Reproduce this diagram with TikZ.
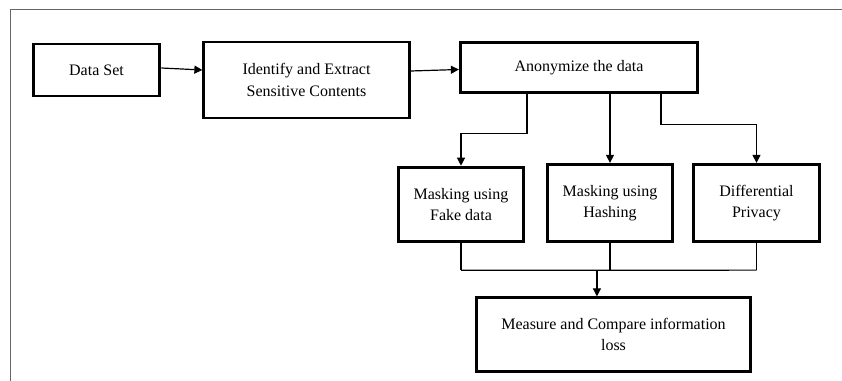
\documentclass[tikz,border=0pt]{standalone}
\usepackage{fontspec}
\setmainfont{Liberation Serif}
\usetikzlibrary{calc, positioning, arrows.meta}

\begin{document}
\begin{tikzpicture}[x=0.75pt, y=-0.75pt,
            box/.style={
                draw, line width=2.2pt,
                align=center,
                inner sep=0pt,
                font=\fontsize{12}{16}\selectfont
            },
            conn/.style={line width=0.9pt},
            arr/.style={conn, -{Triangle[width=6pt,length=6pt]}}]
            \useasboundingbox (0,0) rectangle (842,381);
            % frame
            \draw[gray!80!black, line width=0.7pt] (842,9) -- (10,9) -- (10,381);

            \node[box, minimum width=95pt, minimum height=39pt] (dataset) at (96.5,70) {Data Set};
            \node[box, minimum width=154pt, minimum height=57pt] (identify) at (306.5,80) {Identify and Extract\\Sensitive Contents};
            \node[box, minimum width=178pt, minimum height=38pt] (anon) at (579,67.5) {Anonymize the data};
            \node[box, minimum width=94pt, minimum height=56pt] (fake) at (461,204.5) {Masking using\\Fake data};
            \node[box, minimum width=94pt, minimum height=58pt] (hash) at (610,203) {Masking using\\Hashing};
            \node[box, minimum width=95pt, minimum height=58pt] (diff) at (756.5,203) {Differential\\Privacy};
            \node[box, minimum width=205pt, minimum height=55pt] (measure) at (613.5,334.5) {Measure and Compare information\\loss};

            % top row
            \draw[arr] ($(dataset.east)+(0,-2)$) -- (dataset.east -| identify.west);
            \draw[arr] ($(identify.east)+(0,-9)$) -- ($(anon.west)+(0,2)$);

            % split
            \draw[arr] ($(anon.south)+(-52,0)$) -- ++(0,39) -| (fake.north);
            \draw[arr] (anon.south -| hash.north) -- (hash.north);
            \draw[arr] ($(anon.south)+(82,0)$) -- ++(0,30) -| (diff.north);

            % join
            \draw[conn] (fake.south) -- ++(0,27) coordinate (j1);
            \draw[conn] (diff.south) -- ++(0,27) coordinate (j3);
            \draw[conn] (j1) -- (j3);
            \draw[conn] (hash.south) -- (hash.south |- j1);
            \coordinate (mid) at ($(j1)!0.46!(j3)$);
            \draw[arr] (mid) -- (mid |- measure.north);
\end{tikzpicture}
\end{document}
